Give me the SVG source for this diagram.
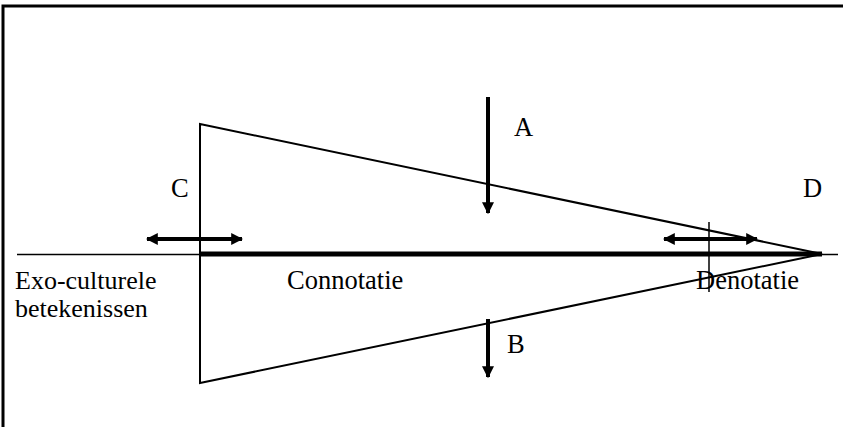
<svg xmlns="http://www.w3.org/2000/svg" width="843" height="427" viewBox="0 0 843 427">
<defs>
<style>
text{font-family:'Liberation Serif','Times New Roman',serif;font-size:26.5px;fill:#000}
.ln{stroke:#000;fill:none}
</style>
<marker id="ah" viewBox="0 0 10 10" refX="9" refY="5" markerWidth="3" markerHeight="3.2" orient="auto-start-reverse" markerUnits="strokeWidth">
<path d="M0,0 L10,5 L0,10 z" fill="#000"/>
</marker>
</defs>
<rect width="843" height="427" fill="#fff"/>
<g id="frame">
<path class="ln" stroke-width="3" d="M3,427 V6 H843"/>
</g>
<g id="triangle">
<path class="ln" stroke-width="2" d="M200,254 V124 L822,254 L200,383 Z"/>
</g>
<g id="connectors">
<line class="ln" stroke-width="1.5" x1="17" y1="254.5" x2="838" y2="254.5"/>
<line class="ln" stroke-width="5" x1="200" y1="254" x2="822" y2="254"/>
<line class="ln" stroke-width="1.5" x1="709" y1="222" x2="709" y2="292"/>
<line class="ln" stroke-width="4" x1="147" y1="239" x2="242" y2="239" marker-start="url(#ah)" marker-end="url(#ah)"/>
<line class="ln" stroke-width="4" x1="664" y1="239" x2="757" y2="239" marker-start="url(#ah)" marker-end="url(#ah)"/>
<line class="ln" stroke-width="4" x1="488" y1="97" x2="488" y2="213" marker-end="url(#ah)"/>
<line class="ln" stroke-width="4" x1="488" y1="319" x2="488" y2="377" marker-end="url(#ah)"/>
</g>
<g id="label-A"><text x="514" y="136">A</text></g>
<g id="label-B"><text x="507" y="353">B</text></g>
<g id="label-C"><text x="171" y="197">C</text></g>
<g id="label-D"><text x="803" y="197">D</text></g>
<g id="label-exo"><text x="15" y="288.5" style="font-size:26px">Exo-culturele</text><text x="15" y="316.5" style="font-size:26px">betekenissen</text></g>
<g id="label-connotatie"><text x="287" y="289">Connotatie</text></g>
<g id="label-denotatie"><text x="696" y="289">Denotatie</text></g>
</svg>
